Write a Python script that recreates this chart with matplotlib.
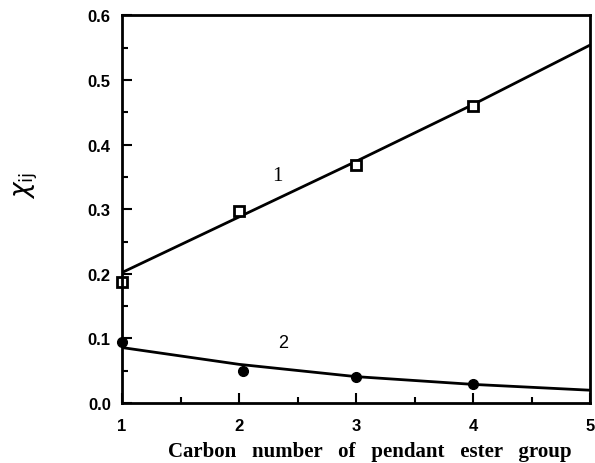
import matplotlib.pyplot as plt
from matplotlib.ticker import MultipleLocator

# data
carbon = [1, 2, 3, 4]
chi_1 = [0.187, 0.297, 0.368, 0.460]
chi_2 = [0.094, 0.049, 0.041, 0.029]
chi_2_x = [1, 2.03, 3, 4]

fit_x = [1, 2, 3, 4, 5]
fit_1 = [0.202, 0.288, 0.374, 0.462, 0.554]
fit_2 = [0.086, 0.060, 0.041, 0.029, 0.020]

fig = plt.figure(figsize=(5.95, 4.64), dpi=100)
ax = fig.add_axes([0.205, 0.129, 0.787, 0.836])

ax.plot(fit_x, fit_1, color='black', lw=2)
ax.plot(fit_x, fit_2, color='black', lw=2)
ax.plot(carbon, chi_1, 's', ms=7, mfc='white', mec='black', mew=2, clip_on=False)
ax.plot(chi_2_x, chi_2, 'o', ms=7, color='black', clip_on=False)

ax.text(2.33, 0.352, '1', family='Liberation Serif', fontsize=15, ha='center', va='center')
ax.text(2.38, 0.094, '2', family='Liberation Sans', fontsize=13, ha='center', va='center')

ax.set_xlim(1, 5)
ax.set_ylim(0, 0.6)
ax.xaxis.set_major_locator(MultipleLocator(1))
ax.xaxis.set_minor_locator(MultipleLocator(0.5))
ax.yaxis.set_major_locator(MultipleLocator(0.1))
ax.yaxis.set_minor_locator(MultipleLocator(0.05))
ax.yaxis.set_major_formatter(plt.FormatStrFormatter('%.1f'))
ax.tick_params(which='both', direction='in', top=False, right=False, width=1.5)
ax.tick_params(which='major', length=7, labelsize=12)
ax.tick_params(axis='y', which='major', pad=8)
ax.tick_params(axis='x', which='major', pad=11)
ax.tick_params(which='minor', length=4)
for lab in ax.get_xticklabels() + ax.get_yticklabels():
    lab.set_family('Liberation Sans')
    lab.set_fontweight('bold')
for sp in ax.spines.values():
    sp.set_linewidth(2)

ax.set_xlabel('Carbon   number   of   pendant   ester   group', family='Liberation Serif',
              fontweight='bold', fontsize=15)
ax.xaxis.set_label_coords(0.53, -0.098)
fig.text(0.045, 0.6, r'$\chi_{\rm ij}$', fontsize=19, rotation=90, ha='center', va='center')

fig.savefig('out.png', dpi=100)
